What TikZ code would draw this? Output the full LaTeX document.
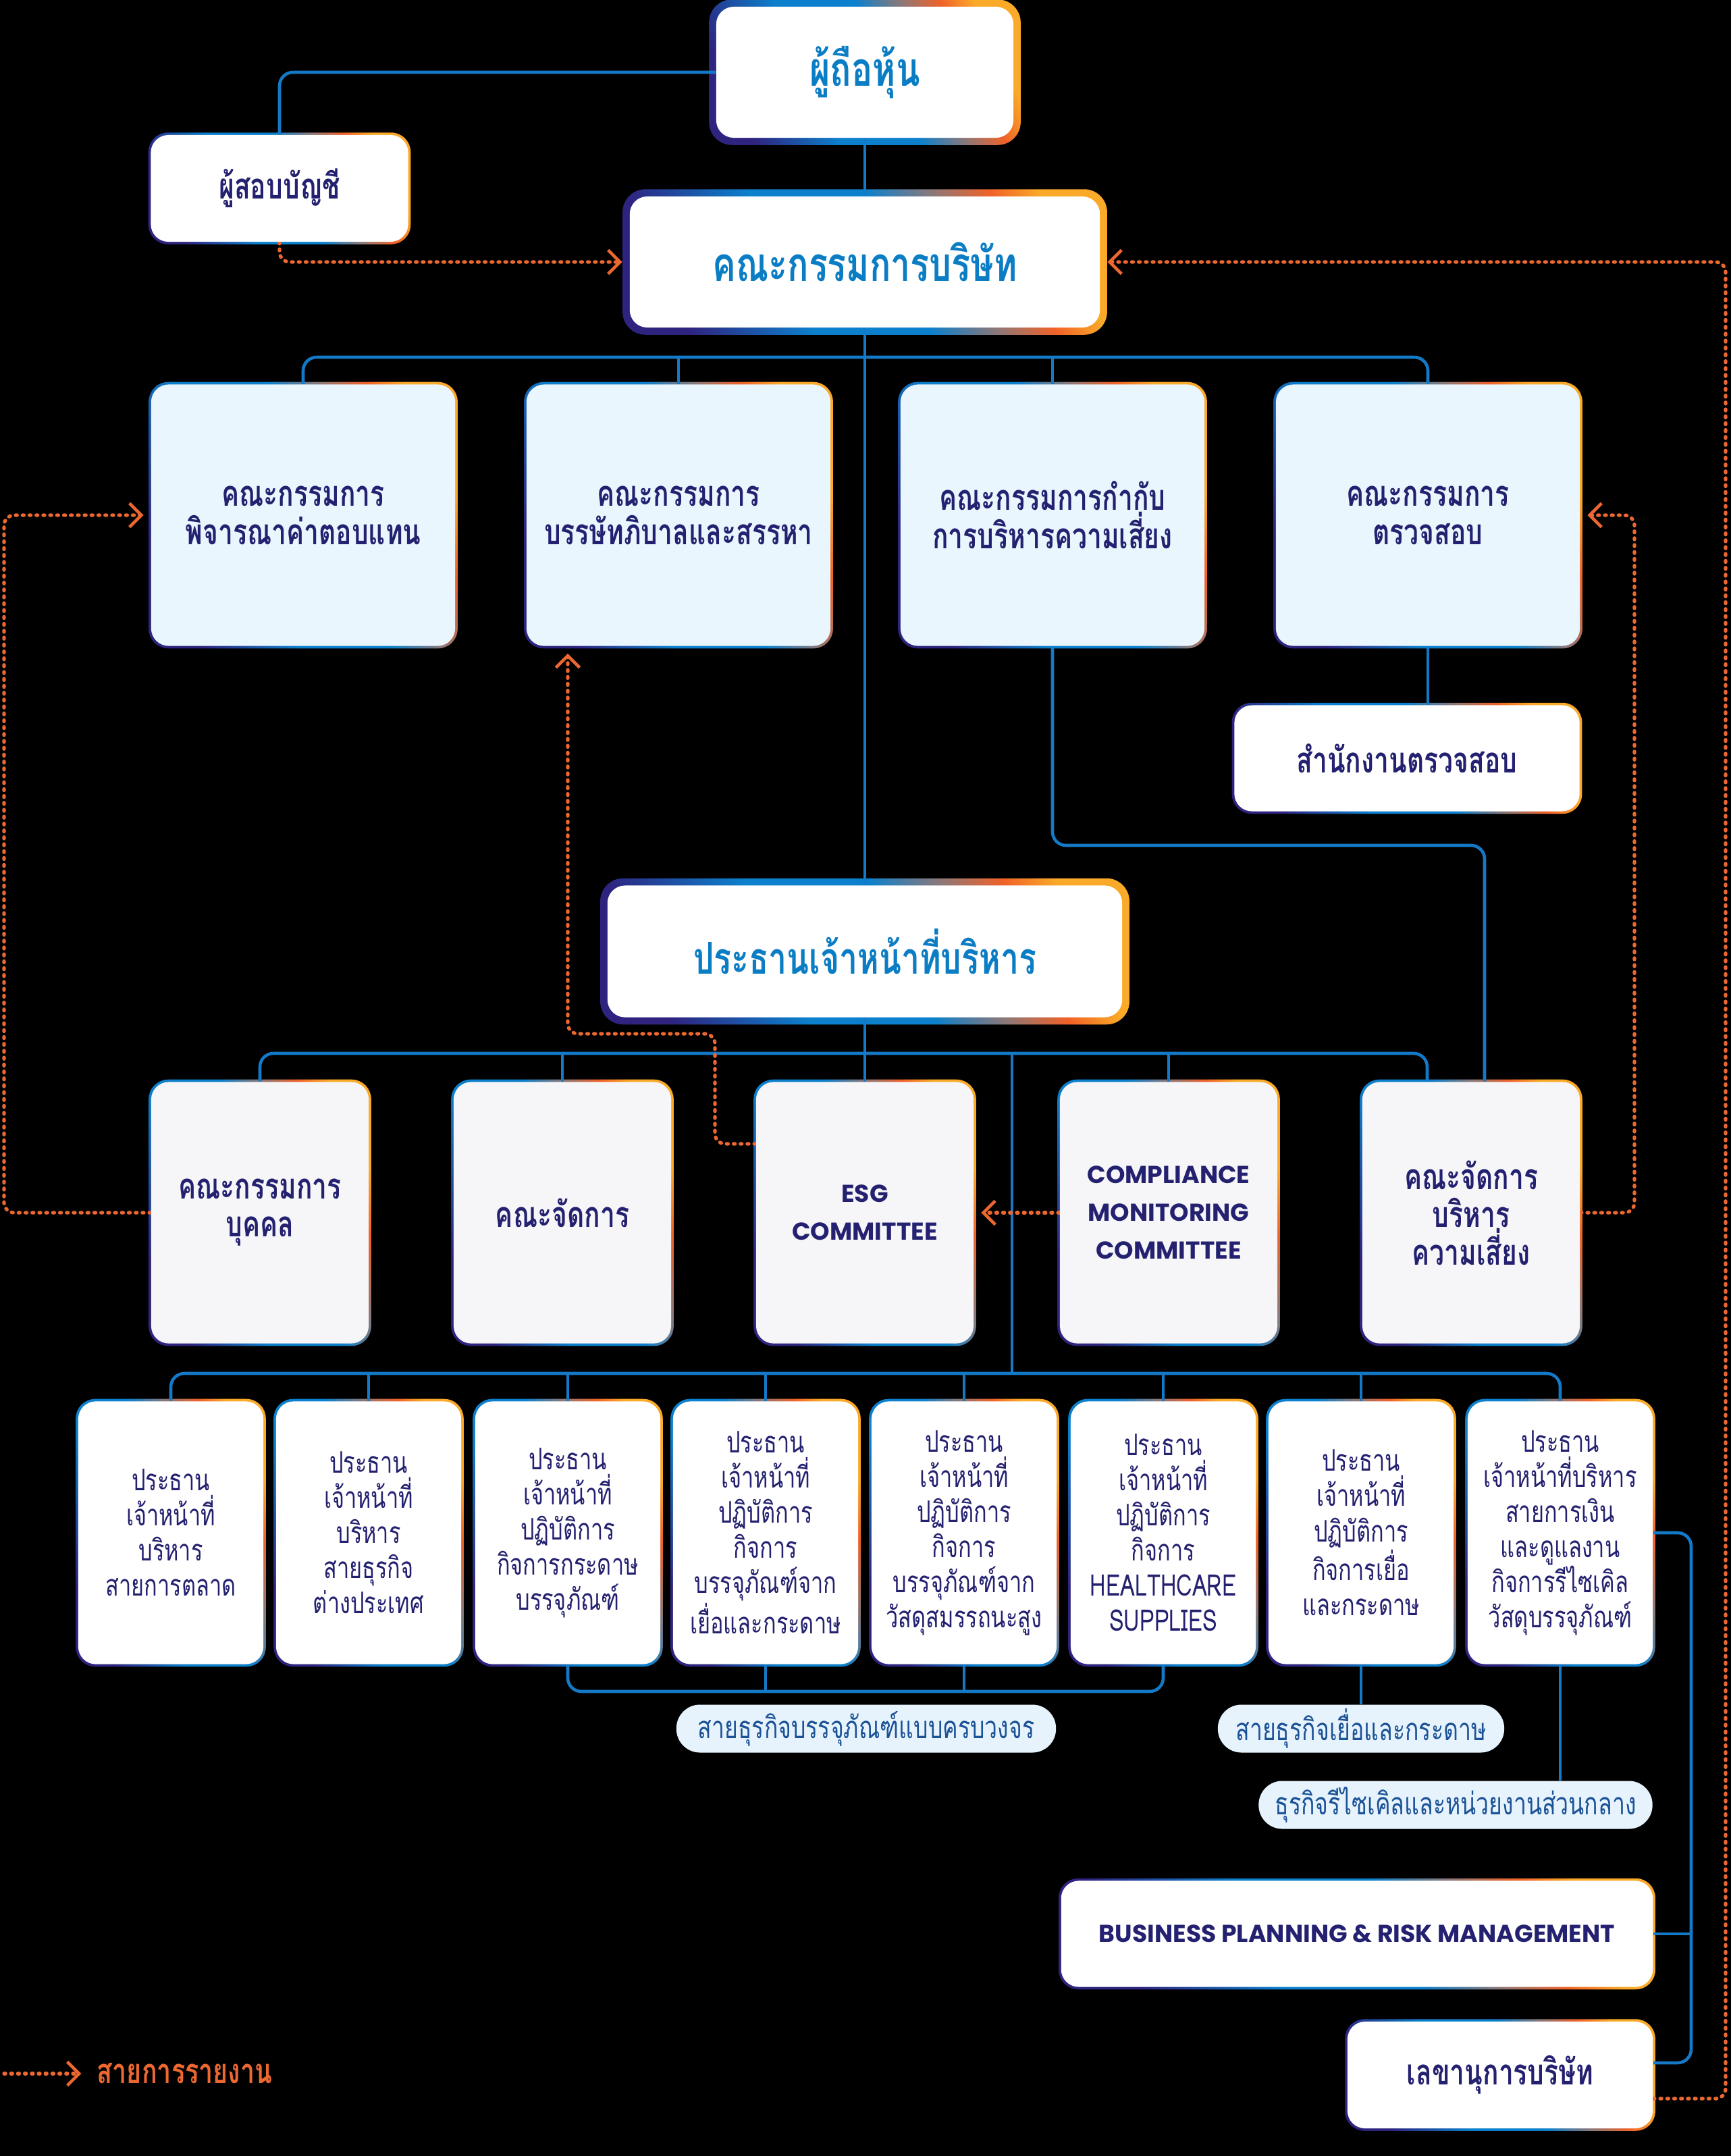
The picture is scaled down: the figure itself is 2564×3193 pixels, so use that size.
\documentclass[tikz,border=0pt]{standalone}
\usepackage{fontspec}
\newfontfamily\thaifont[Script=Thai,FakeStretch=0.74]{Loma}
\newfontfamily\latinfont{Poppins}
\usetikzlibrary{arrows.meta,calc,backgrounds}
\definecolor{lineblue}{RGB}{20,122,200}
\definecolor{repor}{RGB}{236,104,48}
\definecolor{navy}{RGB}{36,33,112}
\definecolor{headblue}{RGB}{10,125,196}
\definecolor{cfill}{RGB}{234,246,254}
\definecolor{mfill}{RGB}{246,246,248}
\definecolor{pfill}{RGB}{230,243,252}
\definecolor{ptext}{RGB}{28,82,150}
\definecolor{fIndigo}{RGB}{46,36,128}
\definecolor{fBlue}{RGB}{12,128,204}
\definecolor{fGray}{RGB}{140,120,120}
\definecolor{fOrange}{RGB}{240,98,40}
\definecolor{fYellow}{RGB}{250,170,40}
\pgfdeclarehorizontalshading{frameshade}{100bp}{color(0bp)=(fIndigo); color(25bp)=(fIndigo); color(40bp)=(fBlue); color(54bp)=(fBlue); color(62bp)=(fGray); color(69bp)=(fOrange); color(75bp)=(fYellow); color(100bp)=(fYellow)}
\newcommand\gframe[3]{%
  \shade[shading=frameshade, shading angle=25, rounded corners=#3]
    ($(#1.south west)+(-#2,#2)$) rectangle ($(#1.north east)+(#2,-#2)$);}
\tikzset{
  every node/.style={inner sep=0pt, align=center},
  bigbox/.style={fill=white, rounded corners=0.26cm, text=headblue,
    font=\thaifont\bfseries\fontsize{20}{24}\selectfont},
  wbox/.style={fill=white, rounded corners=0.26cm, text=navy,
    font=\thaifont\bfseries\fontsize{15}{16.2}\selectfont},
  cbox/.style={wbox, fill=cfill, minimum width=4.5cm, minimum height=3.87cm},
  mbox/.style={wbox, fill=mfill, minimum width=3.22cm, minimum height=3.87cm,
    font=\thaifont\bfseries\fontsize{15}{15.9}\selectfont},
  engl/.style={font=\latinfont\bfseries\fontsize{10.3}{15.9}\selectfont},
  bbox/.style={fill=white, rounded corners=0.26cm, text=navy,
    minimum width=2.74cm, minimum height=3.89cm,
    font=\thaifont\fontsize{12.5}{14.8}\selectfont},
  pill/.style={fill=pfill, rounded corners=0.35cm, minimum height=0.71cm,
    text=ptext, font=\thaifont\fontsize{13}{15}\selectfont},
  legendtext/.style={text=repor, font=\thaifont\bfseries\fontsize{14.5}{17}\selectfont},
  conn/.style={draw=lineblue, line width=1.3pt, rounded corners=0.2cm},
  rep/.style={draw=repor, line width=1.5pt, line cap=round,
    dash pattern=on 0.6pt off 2.3pt, rounded corners=0.15cm},
  reparrow/.style={rep, shorten >=3pt,
    -{Straight Barb[length=5pt,width=10pt,line width=1.3pt]}},
}
\begin{document}
\begin{tikzpicture}[x=0.01cm, y=-0.01cm]
\useasboundingbox (0,0) rectangle (2564,3193);
% ---------- nodes ----------
\node[bigbox, minimum width=4.4cm, minimum height=1.94cm] (sh) at (1281,107) {ผู้ถือหุ้น};
\node[wbox, minimum width=3.81cm, minimum height=1.58cm] (aud) at (414,279) {ผู้สอบบัญชี};
\node[bigbox, minimum width=6.96cm, minimum height=1.94cm] (board) at (1281,388) {คณะกรรมการบริษัท};
\node[cbox] (c1) at (449,763) {คณะกรรมการ\\พิจารณาค่าตอบแทน};
\node[cbox] (c2) at (1005,763) {คณะกรรมการ\\บรรษัทภิบาลและสรรหา};
\node[cbox] (c3) at (1559,763) {คณะกรรมการกำกับ\\การบริหารความเสี่ยง};
\node[cbox] (c4) at (2115,763) {คณะกรรมการ\\ตรวจสอบ};
\node[wbox, minimum width=5.11cm, minimum height=1.57cm] (ao) at (2084,1123) {สำนักงานตรวจสอบ};
\node[bigbox, minimum width=7.62cm, minimum height=1.95cm,
  font=\thaifont\bfseries\fontsize{18.5}{22}\selectfont] (ceo) at (1281,1409) {ประธานเจ้าหน้าที่บริหาร};
\node[mbox] (m1) at (385,1796) {คณะกรรมการ\\บุคคล};
\node[mbox] (m2) at (833,1796) {คณะจัดการ};
\node[mbox, engl] (m3) at (1281,1796) {ESG\\COMMITTEE};
\node[mbox, engl] (m4) at (1731,1796) {COMPLIANCE\\MONITORING\\COMMITTEE};
\node[mbox] (m5) at (2179,1796) {คณะจัดการ\\บริหาร\\ความเสี่ยง};
\node[bbox] (b1) at (253,2270) {ประธาน\\เจ้าหน้าที่\\บริหาร\\สายการตลาด};
\node[bbox] (b2) at (546,2270) {ประธาน\\เจ้าหน้าที่\\บริหาร\\สายธุรกิจ\\ต่างประเทศ};
\node[bbox] (b3) at (841,2270) {ประธาน\\เจ้าหน้าที่\\ปฏิบัติการ\\กิจการกระดาษ\\บรรจุภัณฑ์};
\node[bbox] (b4) at (1134,2270) {ประธาน\\เจ้าหน้าที่\\ปฏิบัติการ\\กิจการ\\บรรจุภัณฑ์จาก\\เยื่อและกระดาษ};
\node[bbox] (b5) at (1428,2270) {ประธาน\\เจ้าหน้าที่\\ปฏิบัติการ\\กิจการ\\บรรจุภัณฑ์จาก\\วัสดุสมรรถนะสูง};
\node[bbox] (b6) at (1723,2270) {ประธาน\\เจ้าหน้าที่\\ปฏิบัติการ\\กิจการ\\HEALTHCARE\\SUPPLIES};
\node[bbox] (b7) at (2016,2270) {ประธาน\\เจ้าหน้าที่\\ปฏิบัติการ\\กิจการเยื่อ\\และกระดาษ};
\node[bbox] (b8) at (2311,2270) {ประธาน\\เจ้าหน้าที่บริหาร\\สายการเงิน\\และดูแลงาน\\กิจการรีไซเคิล\\วัสดุบรรจุภัณฑ์};
\node[pill, minimum width=5.62cm] (pill1) at (1283,2560) {สายธุรกิจบรรจุภัณฑ์แบบครบวงจร};
\node[pill, minimum width=4.24cm] (pill2) at (2016,2560) {สายธุรกิจเยื่อและกระดาษ};
\node[pill, minimum width=5.83cm] (pill3) at (2156,2673) {ธุรกิจรีไซเคิลและหน่วยงานส่วนกลาง};
\node[wbox, engl, text=navy, minimum width=8.76cm, minimum height=1.57cm] (bpr) at (2010,2864) {BUSINESS PLANNING \& RISK MANAGEMENT};
\node[wbox, minimum width=4.52cm, minimum height=1.58cm] (sec) at (2222,3073) {เลขานุการบริษัท};
\node[legendtext, anchor=west] (lgt) at (143,3071) {สายการรายงาน};
\coordinate (lg0) at (6,3071);
% ---------- background: frames and connectors ----------
\begin{pgfonlayer}{background}
\fill[black] (0,0) rectangle (2564,3193);
\gframe{sh}{10}{0.34cm}
\gframe{board}{10}{0.34cm}
\gframe{ceo}{10}{0.34cm}
\foreach \n in {aud,ao,bpr,sec,c1,c2,c3,c4,m1,m2,m3,m4,m5,b1,b2,b3,b4,b5,b6,b7,b8}{\gframe{\n}{3}{0.29cm}}
% blue lines
\draw[conn] (sh.west) -| (aud.north);
\draw[conn] (sh.south) -- (board.north);
\draw[conn] (board.south) -- (ceo.north);
\coordinate (busA) at (1281,529);
\draw[conn] (c1.north) |- (busA) -| (c4.north);
\draw[conn] (c2.north) -- (c2.north |- busA);
\draw[conn] (c3.north) -- (c3.north |- busA);
\draw[conn] (c4.south) -- (c4.south |- ao.north);
\coordinate (rkA) at (2199,1252);
\draw[conn] (c3.south) |- (rkA) -- (rkA |- m5.north);
\coordinate (busB) at (1281,1560);
\draw[conn] (m1.north) |- (busB) -| ($(m5.north)+(-65,0)$);
\draw[conn] (m2.north) -- (m2.north |- busB);
\draw[conn] (ceo.south) -- (m3.north);
\draw[conn] (m4.north) -- (m4.north |- busB);
\coordinate (busC) at (1499,2034);
\draw[conn] (busC |- busB) -- (busC);
\draw[conn] (b1.north) |- (busC) -| (b8.north);
\foreach \i in {2,...,7}{\draw[conn] (b\i.north) -- (b\i.north |- busC);}
\coordinate (brk) at (1281,2505);
\draw[conn] (b3.south) |- (brk) -| (b6.south);
\draw[conn] (b4.south) -- (b4.south |- brk);
\draw[conn] (b5.south) -- (b5.south |- brk);
\draw[conn] (b7.south) -- (pill2.north);
\draw[conn] (b8.south) -- (b8.south |- pill3.north);
\coordinate (rside) at (2505,3055);
\draw[conn] (b8.east) -| (rside) -- (rside -| sec.east);
\draw[conn] (bpr.east) -- (bpr.east -| rside);
% orange reporting lines
\draw[reparrow] (aud.south) |- (board.west);
\coordinate (lrail) at (6,0);
\draw[reparrow] (m1.west) -- (m1.west -| lrail) |- (c1.west);
\coordinate (esgA) at (1059,1531);
\draw[reparrow] ($(m3.west)+(0,-102)$) -| (esgA) -| ($(c2.south)+(-164,0)$);
\draw[reparrow] (m4.west) -- (m3.east);
\coordinate (rrail) at (2421,0);
\draw[reparrow] (m5.east) -- (m5.east -| rrail) |- (c4.east);
\coordinate (frail) at (2556,0);
\coordinate (secout) at ($(sec.east)+(0,35)$);
\draw[reparrow] (secout) -- (secout -| frail) |- (board.east);
\draw[reparrow] (lg0) -- ($(lgt.west)+(-12,0)$);
\end{pgfonlayer}
\end{tikzpicture}
\end{document}
